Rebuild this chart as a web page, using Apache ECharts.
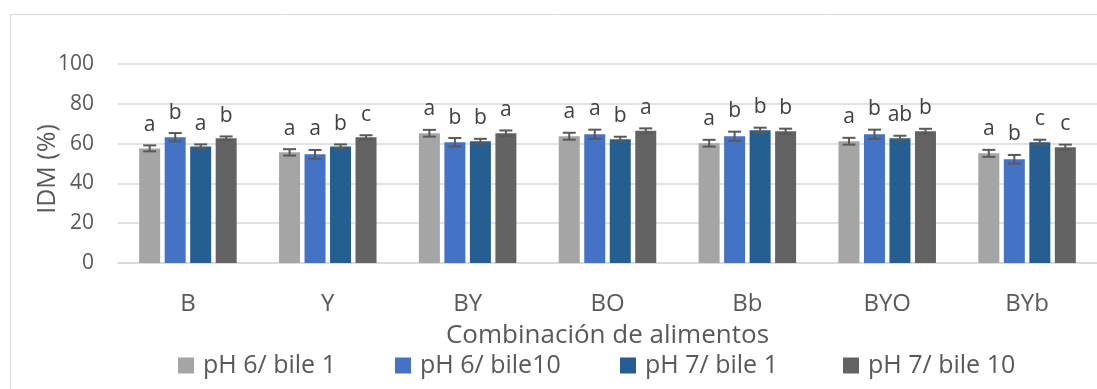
<!DOCTYPE html>
<html>
<head>
<meta charset="utf-8">
<script src="https://cdn.jsdelivr.net/npm/echarts@6/dist/echarts.min.js"></script>
<style>
  html, body { margin: 0; padding: 0; background: #fff; }
  #chart { width: 1097px; height: 389px; }
</style>
</head>
<body>
<div id="chart"></div>
<script>
// Food combinations on the category axis
const categories = ['B', 'Y', 'BY', 'BO', 'Bb', 'BYO', 'BYb'];

// Series names (digestion conditions)
const seriesNames = ['pH 6/ bile 1', 'pH 6/ bile10', 'pH 7/ bile 1', 'pH 7/ bile 10'];

// Mean IDM (%) per condition
const pH6Bile1  = [57.6, 55.6, 65.2, 63.7, 60.2, 61.2, 55.1];
const pH6Bile10 = [63.2, 54.6, 60.7, 64.7, 63.7, 64.7, 52.1];
const pH7Bile1  = [58.6, 58.6, 61.2, 62.2, 66.7, 62.7, 60.7];
const pH7Bile10 = [62.7, 63.2, 65.2, 66.4, 66.2, 66.2, 58.2];

// Standard error per condition
const errPH6Bile1  = [1.5, 1.6, 1.7, 1.75, 1.7, 1.7, 1.75];
const errPH6Bile10 = [2.1, 2.2, 2.1, 2.3, 2.3, 2.3, 2.2];
const errPH7Bile1  = [1.0, 1.0, 1.2, 1.25, 1.3, 1.25, 1.25];
const errPH7Bile10 = [0.9, 1.0, 1.4, 1.25, 1.3, 1.25, 1.3];

// Significance letters
const letPH6Bile1  = ['a', 'a', 'a', 'a', 'a', 'a', 'a'];
const letPH6Bile10 = ['b', 'a', 'b', 'a', 'b', 'b', 'b'];
const letPH7Bile1  = ['a', 'b', 'b', 'b', 'b', 'ab', 'c'];
const letPH7Bile10 = ['b', 'c', 'a', 'a', 'b', 'b', 'c'];

// Y axis ticks and title
const yMin = 0, yMax = 100, yStep = 20;
const yTitle = 'IDM (%)';

const values  = [pH6Bile1, pH6Bile10, pH7Bile1, pH7Bile10];
const errors  = [errPH6Bile1, errPH6Bile10, errPH7Bile1, errPH7Bile10];
const letters = [letPH6Bile1, letPH6Bile10, letPH7Bile1, letPH7Bile10];
const colors  = ['#a5a5a5', '#4472c4', '#255e91', '#636363'];

const FONT = '"Open Sans", "Noto Sans", sans-serif';
const TEXT = '#595959';
const GRIDC = '#d9d9d9';
const BAR_W = 21;
const BAR_GAP = 4.5;
const STEP = BAR_W + BAR_GAP;

const chart = echarts.init(document.getElementById('chart'), null, { renderer: 'canvas' });

const barSeries = values.map((vals, i) => ({
  name: seriesNames[i],
  type: 'bar',
  data: vals,
  barWidth: BAR_W,
  barGap: (BAR_GAP / BAR_W * 100) + '%',
  itemStyle: { color: colors[i] },
  z: 2
}));

// Error bars and letters drawn on top of each bar series
const errSeries = values.map((vals, i) => ({
  type: 'custom',
  name: 'err' + i,
  z: 5,
  data: vals.map((v, k) => [k, v, errors[i][k]]),
  encode: { x: 0, y: 1 },
  renderItem: function (params, api) {
    const k = api.value(0);
    const v = api.value(1);
    const e = api.value(2);
    const x = api.coord([k, v])[0] + (i - 1.5) * STEP;
    const yTop = api.coord([k, v + e])[1];
    const yBot = api.coord([k, v - e])[1];
    const half = 6.5;
    const st = { stroke: '#595959', lineWidth: 2 };
    return {
      type: 'group',
      children: [
        { type: 'line', shape: { x1: x, y1: yTop, x2: x, y2: yBot }, style: st },
        { type: 'line', shape: { x1: x - half, y1: yTop, x2: x + half, y2: yTop }, style: st },
        { type: 'line', shape: { x1: x - half, y1: yBot, x2: x + half, y2: yBot }, style: st },
        {
          type: 'text',
          x: x, y: yTop - 10,
          style: {
            text: letters[i][params.dataIndex],
            fill: '#404040',
            font: '21px ' + FONT,
            align: 'center',
            verticalAlign: 'bottom'
          }
        }
      ]
    };
  }
}));

const legendLeft = [178, 395, 620, 843];

const option = {
  animation: false,
  backgroundColor: '#ffffff',
  graphic: [
    {
      type: 'rect',
      left: 8, top: 12,
      shape: { x: 0, y: 0, width: 1200, height: 500 },
      style: { fill: 'none', stroke: GRIDC, lineWidth: 1 },
      silent: true
    },
    {
      // Rotated y-axis title
      type: 'text',
      x: 48, y: 169,
      rotation: Math.PI / 2,
      style: {
        text: yTitle,
        fill: TEXT,
        font: '25px ' + FONT,
        align: 'center',
        verticalAlign: 'middle'
      },
      silent: true
    }
  ],
  grid: { left: 118, top: 64, width: 984, height: 199 },
  legend: seriesNames.map((n, i) => ({
    data: [n],
    left: legendLeft[i],
    top: 353,
    padding: 0,
    itemWidth: 16,
    itemHeight: 16,
    icon: 'rect',
    textStyle: { color: TEXT, fontSize: 25, fontFamily: FONT, padding: [0, 0, 0, 4] }
  })),
  xAxis: {
    type: 'category',
    data: categories,
    name: 'Combinación de alimentos',
    nameLocation: 'middle',
    nameGap: 60,
    nameMoveOverlap: false,
    nameTextStyle: { color: TEXT, fontSize: 26, fontFamily: FONT },
    axisLine: { lineStyle: { color: GRIDC, width: 1.5 } },
    axisTick: { show: false },
    axisLabel: { color: TEXT, fontSize: 24, fontFamily: FONT, margin: 29 }
  },
  yAxis: {
    type: 'value',
    min: yMin, max: yMax, interval: yStep,
    axisLine: { show: false },
    axisTick: { show: false },
    axisLabel: { color: TEXT, fontSize: 21, fontFamily: FONT, margin: 24 },
    splitLine: { lineStyle: { color: GRIDC, width: 1.5 } }
  },
  series: barSeries.concat(errSeries)
};

chart.setOption(option);
</script>
</body>
</html>
